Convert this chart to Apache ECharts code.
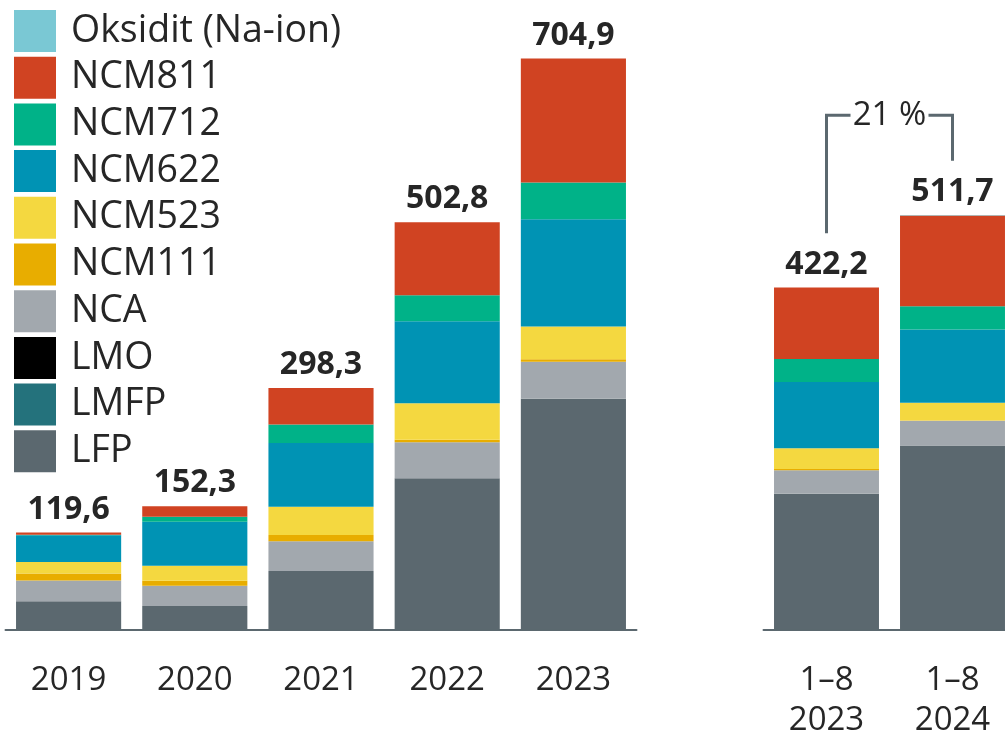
<!DOCTYPE html>
<html>
<head>
<meta charset="utf-8">
<script src="https://cdn.jsdelivr.net/npm/echarts@6/dist/echarts.min.js"></script>
<style>
  html, body { margin: 0; padding: 0; background: #fff; }
  #chart { width: 1005px; height: 738px; }
</style>
</head>
<body>
<div id="chart"></div>
<script>
// vuodet ja jaksot
const years = ['2019', '2020', '2021', '2022', '2023']
const periods = ['1–8\n2023', '1–8\n2024']

// summat palkkien päällä
const yearTotals = [119.6, 152.3, 298.3, 502.8, 704.9]
const periodTotals = [422.2, 511.7]
const growthLabel = '21 %'

// kemiat alhaalta ylös, vuodet 2019–2023
const LFP = [34.9, 29.0, 72.3, 186.8, 284.9]
const LMFP = [0, 0, 0, 0, 0]
const LMO = [0, 0, 0, 0, 0]
const NCA = [25.6, 25.1, 36.7, 44.4, 45.8]
const NCM111 = [8.6, 6.2, 7.8, 3.0, 2.8]
const NCM523 = [14.3, 18.5, 34.6, 45.2, 40.6]
const NCM622 = [33.0, 54.3, 79.0, 101.2, 132.3]
const NCM712 = [0.5, 6.2, 22.6, 32.1, 45.3]
const NCM811 = [2.7, 13.0, 45.3, 90.1, 153.2]
const NaIon = [0, 0, 0, 0, 0]

// jaksot 1–8/2023 ja 1–8/2024
const LFP_p = [167.5, 227.2]
const LMFP_p = [0, 0]
const LMO_p = [0, 0]
const NCA_p = [29.0, 30.4]
const NCM111_p = [1.7, 0.3]
const NCM523_p = [25.6, 22.0]
const NCM622_p = [81.9, 90.6]
const NCM712_p = [28.1, 28.5]
const NCM811_p = [88.4, 112.2]
const NaIon_p = [0, 0.5]

const textColor = '#262626'
const axisColor = '#5b686f'
const font = "'Open Sans', 'Noto Sans', sans-serif"

const shape = [
  {name: 'LFP', color: '#5b686f', a: LFP, b: LFP_p},
  {name: 'LMFP', color: '#24727c', a: LMFP, b: LMFP_p},
  {name: 'LMO', color: '#000000', a: LMO, b: LMO_p},
  {name: 'NCA', color: '#a2a8ae', a: NCA, b: NCA_p},
  {name: 'NCM111', color: '#e8ad00', a: NCM111, b: NCM111_p},
  {name: 'NCM523', color: '#f4d840', a: NCM523, b: NCM523_p},
  {name: 'NCM622', color: '#0093b4', a: NCM622, b: NCM622_p},
  {name: 'NCM712', color: '#00b288', a: NCM712, b: NCM712_p},
  {name: 'NCM811', color: '#d04322', a: NCM811, b: NCM811_p},
  {name: 'Oksidit (Na-ion)', color: '#7ac8d4', a: NaIon, b: NaIon_p},
]

const chart = echarts.init(document.getElementById('chart'), null, {renderer: 'canvas'})

const barDefaults = {
  type: 'bar',
  barCategoryGap: '16.7%',
  emphasis: {disabled: true},
}

const series = []
shape.forEach(item => {
  series.push({...barDefaults, name: item.name, stack: 'a', xAxisIndex: 0, yAxisIndex: 0,
    itemStyle: {color: item.color}, data: item.a})
  series.push({...barDefaults, name: item.name, stack: 'b', xAxisIndex: 1, yAxisIndex: 1,
    itemStyle: {color: item.color}, data: item.b})
})

// summat näkymättömänä sarjana pinon päällä
const totalLabel = (totals) => ({
  show: true,
  position: 'top',
  distance: 7,
  fontFamily: font,
  fontWeight: 'bold',
  fontSize: 32,
  color: textColor,
  formatter: p => totals[p.dataIndex].toFixed(1).replace('.', ',')
})
series.push({...barDefaults, name: 'sum', stack: 'a', xAxisIndex: 0, yAxisIndex: 0,
  itemStyle: {color: 'transparent'}, data: yearTotals.map(() => 0), label: totalLabel(yearTotals)})
series.push({...barDefaults, name: 'sum', stack: 'b', xAxisIndex: 1, yAxisIndex: 1,
  itemStyle: {color: 'transparent'}, data: periodTotals.map(() => 0), label: totalLabel(periodTotals)})

const xAxisBase = {
  type: 'category',
  axisTick: {show: false},
  axisLine: {lineStyle: {color: axisColor, width: 2}},
  axisLabel: {color: textColor, fontFamily: font, fontSize: 33, margin: 31, lineHeight: 40},
}
const yAxisBase = {type: 'value', min: 0, max: 750, show: false, splitLine: {show: false}}

chart.setOption({
  animation: false,
  backgroundColor: '#fff',
  legend: {
    orient: 'vertical',
    left: 14,
    top: 10,
    padding: 0,
    itemWidth: 42,
    itemHeight: 42,
    itemGap: 4.7,
    icon: 'rect',
    selectedMode: false,
    data: shape.map(s => s.name).reverse(),
    textStyle: {color: textColor, fontFamily: font, fontSize: 37.5, padding: [0, 0, 0, 10]},
  },
  grid: [
    {left: 5.5, width: 631, top: 22, height: 607.5, outerBoundsMode: 'none'},
    {left: 763.5, width: 252, top: 22, height: 607.5, outerBoundsMode: 'none'},
  ],
  xAxis: [
    {...xAxisBase, gridIndex: 0, data: years},
    {...xAxisBase, gridIndex: 1, data: periods},
  ],
  yAxis: [
    {...yAxisBase, gridIndex: 0},
    {...yAxisBase, gridIndex: 1},
  ],
  series,
})

// kasvuhakanen jaksojen välillä
function drawBracket() {
  const p = {xAxisIndex: 1, yAxisIndex: 1}
  const off = 67
  const topVal = 635
  const l0 = chart.convertToPixel(p, [0, periodTotals[0] + off])
  const r0 = chart.convertToPixel(p, [1, periodTotals[1] + off])
  const yTop = chart.convertToPixel(p, [0, topVal])[1]
  const mid = (l0[0] + r0[0]) / 2
  const lineStyle = {stroke: axisColor, lineWidth: 3, fill: null}
  chart.setOption({
    graphic: [
      {type: 'polyline', shape: {points: [[l0[0], l0[1]], [l0[0], yTop], [mid - 39, yTop]]}, style: lineStyle},
      {type: 'polyline', shape: {points: [[mid + 39, yTop], [r0[0], yTop], [r0[0], r0[1]]]}, style: lineStyle},
      {type: 'text', x: mid, y: yTop, style: {text: growthLabel, fill: textColor, font: '33px ' + font,
        textAlign: 'center', textVerticalAlign: 'middle'}},
    ]
  })
}
drawBracket()
</script>
</body>
</html>
